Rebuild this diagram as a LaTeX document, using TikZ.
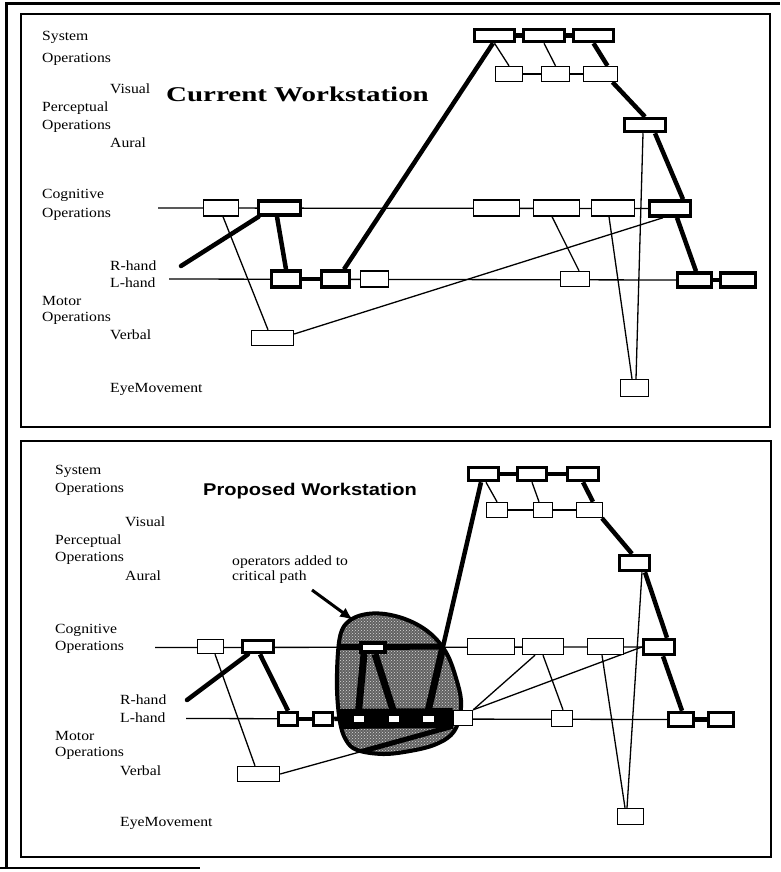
\documentclass[tikz,border=0pt]{standalone}
\usepackage{fontspec}
\setmainfont{Liberation Serif}
\newfontfamily\labfont{Liberation Serif}[FakeStretch=1.12]
\newfontfamily\propfont{Liberation Sans}
\usetikzlibrary{arrows.meta,patterns}
\pgfdeclarelayer{bg}
\pgfdeclarelayer{mid}
\pgfsetlayers{bg,mid,main}
\newcommand\bx[6]{\node[#1, minimum width=#5, minimum height=#6] (#2) at (#3,#4) {};}
\tikzset{
  box/.style={draw, fill=white, inner sep=0pt, line width=1.4pt},
  tbox/.style={box, line width=3.5pt},
  bbox/.style={draw, fill=white, inner sep=0pt, line width=4pt},
  thin/.style={line width=1.3pt},
  thk/.style={line width=4.5pt},
  lab/.style={anchor=base west, inner sep=0pt, font=\labfont\fontsize{14}{15}\selectfont},
  frame/.style={line width=1.5pt},
}
\begin{document}
\begin{tikzpicture}[x=1pt,y=-1pt]
\useasboundingbox (0,0) rectangle (780,872);
% outer frame
\draw[line width=3pt] (6,868) -- (6,4) -- (780,4);
\draw[line width=1.5pt] (0,868) -- (200,868);
% panels
\draw[frame] (21,14) rectangle (770,427);
\draw[frame] (21,441) rectangle (771,857);

% ---------------- upper panel labels
\node[lab] (uL1) at (42,40.5) {System};
\node[lab] (uL2) at (42,63) {Operations};
\node[lab] (uL3) at (110,93.5) {Visual};
\node[lab] (uL4) at (42,111.5) {Perceptual};
\node[lab] (uL5) at (42,129.5) {Operations};
\node[lab] (uL6) at (110,147) {Aural};
\node[lab] (uL7) at (42,198.5) {Cognitive};
\node[lab] (uL8) at (42,217) {Operations};
\node[lab] (uL9) at (110,270) {R-hand};
\node[lab] (uL10) at (110,287.3) {L-hand};
\node[lab] (uL11) at (42,305) {Motor};
\node[lab] (uL12) at (42,321.7) {Operations};
\node[lab] (uL13) at (110,339.3) {Verbal};
\node[lab] (uL14) at (110,392.7) {EyeMovement};
\node[anchor=base, inner sep=0pt] (uT) at (297.5,101.7) {\scalebox{1.38}[1]{\fontsize{21}{24}\selectfont\bfseries Current Workstation}};

% ---------------- upper panel boxes
\bx{tbox}{uS1}{494.5}{35.5}{40}{12}
\bx{tbox}{uS2}{544}{35.5}{41}{12}
\bx{tbox}{uS3}{593.5}{35.5}{40}{12}
\bx{box}{uV1}{509}{74}{27}{15}
\bx{box}{uV2}{555.5}{74}{28}{15}
\bx{box}{uV3}{600.5}{74}{34}{15}
\bx{tbox}{uA}{645}{125}{41}{13}
\bx{box}{uCa}{221}{208}{35}{16}
\bx{tbox}{uCb}{279.5}{208}{42}{14}
\bx{box}{uC1}{496.5}{208}{46}{16}
\bx{box}{uC2}{556.5}{208}{46}{16}
\bx{box}{uC3}{613}{208}{43}{16}
\bx{tbox}{uC4}{670}{208.5}{41}{15}
\bx{tbox}{uLa}{286}{279}{29}{16}
\bx{tbox}{uLb}{335.5}{279}{28}{16}
\bx{box}{uLc}{374.5}{279}{28}{16}
\bx{box}{uLd}{575}{279}{29}{15}
\bx{tbox}{uLe}{694.5}{280}{34}{14}
\bx{tbox}{uLf}{738}{280}{35}{14}
\bx{box}{uVb}{272.5}{338}{42}{15}
\bx{box}{uE}{634.5}{388}{28}{17}
\coordinate (ucs) at (158,208);
\coordinate (ums) at (169,279);
\coordinate (urh) at (181,266);

\begin{pgfonlayer}{bg}
\draw[thin] (ucs) -- (uC4.west);
\draw[thin] (ums) -- (uLe.west);
\draw[thk] (uLa.east) -- (uLb.west);
\draw[thk] (uLe.east) -- (uLf.west);
\draw[thk] (uS1) -- (uS3);
\draw[thin] (uV1) -- (uV3);
\draw[thin] (uS1.south) -- (uV1.north);
\draw[thin] (uS2.south) -- (uV2.north);
\draw[thk] (uS3.south) -- ([xshift=7pt]uV3.north);
\draw[thk] ([xshift=12pt]uV3.south) -- (uA.north);
\draw[thk] ([xshift=10pt]uA.south) -- ([xshift=13pt]uC4.north);
\draw[thin] ([xshift=-2pt]uA.south) -- ([xshift=1.5pt]uE.north);
\draw[thin] ([xshift=-4pt]uC3.south) -- ([xshift=-2.5pt]uE.north);
\draw[thin] ([xshift=-4.5pt]uC2.south) -- ([xshift=4pt]uLd.north);
\draw[thk] ([xshift=7pt]uC4.south) -- ([xshift=1.5pt]uLe.north);
\draw[thin] ([yshift=4pt]uVb.east) -- ([xshift=-7pt]uC4.south);
\draw[thin] ([xshift=2pt]uCa.south) -- ([xshift=-4.5pt]uVb.north);
\draw[thk] ([xshift=-2.5pt]uCb.south) -- (uLa.north);
\draw[thk,line cap=round] ([xshift=-21pt]uCb.south) -- (urh);
\draw[thk] ([xshift=8.5pt]uLb.north) -- ([xshift=-1.5pt]uS1.south);
\end{pgfonlayer}

% ---------------- lower panel labels
\node[lab] (lL1) at (55,474.3) {System};
\node[lab] (lL2) at (55,492.3) {Operations};
\node[lab] (lL3) at (125,526.7) {Visual};
\node[lab] (lL4) at (55,544.3) {Perceptual};
\node[lab] (lL5) at (55,561.7) {Operations};
\node[lab] (lL6) at (125,580) {Aural};
\node[lab] (lL7) at (55,633.3) {Cognitive};
\node[lab] (lL8) at (55,650.7) {Operations};
\node[lab] (lL9) at (120,704) {R-hand};
\node[lab] (lL10) at (120,722.7) {L-hand};
\node[lab] (lL11) at (55,740) {Motor};
\node[lab] (lL12) at (55,756) {Operations};
\node[lab] (lL13) at (120,775) {Verbal};
\node[lab] (lL14) at (120,826.7) {EyeMovement};
\node[anchor=base, inner sep=0pt] (lT) at (310,495) {\scalebox{1.18}[1]{\propfont\fontsize{17}{20}\selectfont\bfseries Proposed Workstation}};
\node[lab] (ann1) at (232,565) {operators added to};
\node[lab] (ann2) at (232,580.7) {critical path};

% ---------------- lower panel boxes
\bx{tbox}{lS1}{483.5}{474}{30}{13}
\bx{tbox}{lS2}{532}{474}{29}{13}
\bx{tbox}{lS3}{583}{474}{31}{13}
\bx{box}{lV1}{497}{510}{21}{15}
\bx{box}{lV2}{543}{510}{19}{15}
\bx{box}{lV3}{589.5}{510}{26}{15}
\bx{tbox}{lA}{634.5}{563}{30}{15}
\bx{box}{lCa}{210.5}{646.5}{26}{14}
\bx{tbox}{lCb}{258}{646.5}{31}{12}
\bx{bbox}{lCx}{373}{647.5}{24}{9}
\bx{box}{lC1}{491}{646.5}{47}{16}
\bx{box}{lC2}{543}{646.5}{41}{16}
\bx{box}{lC3}{605.5}{646.5}{36}{16}
\bx{tbox}{lC4}{659}{647}{31}{15}
\bx{tbox}{lLa}{288}{719}{19}{13}
\bx{tbox}{lLb}{323}{719}{19}{13}
\bx{bbox}{lL1}{358.5}{718.5}{14}{10}
\bx{bbox}{lL2}{393.5}{718.5}{14}{10}
\bx{bbox}{lL3}{428}{718.5}{15}{10}
\bx{box}{lLg}{463}{718}{19}{15}
\bx{box}{lLd}{562}{718.5}{21}{16}
\bx{tbox}{lLe}{681}{719.5}{25}{14}
\bx{tbox}{lLf}{721}{719.5}{25}{14}
\bx{box}{lVb}{258.5}{774}{42}{15}
\bx{box}{lE}{630.5}{816.5}{26}{16}
\coordinate (lcs) at (155,647.5);
\coordinate (lms) at (186,718.5);
\coordinate (lrh) at (187,700);
\coordinate (arS) at (312,590);
\coordinate (arE) at (353,620);

\begin{pgfonlayer}{bg}
\draw[thin] (lcs) -- (lC4.west);
\draw[thin] (lms) -- (lLe.west);
\draw[thk] (lLa.east) -- (lLb.west);
\draw[thk] (lLb) -- (lL3);
\draw[thk] (lLe.east) -- (lLf.west);
\draw[thk] (lS1) -- (lS3);
\draw[thin] (lV1) -- (lV3);
\draw[thin] ([xshift=2.5pt]lS1.south) -- (lV1.north);
\draw[thin] (lS2.south) -- ([xshift=-4pt]lV2.north);
\draw[thk] (lS3.south) -- ([xshift=3.5pt]lV3.north);
\draw[thk] ([xshift=12.5pt]lV3.south) -- ([xshift=-2.5pt]lA.north);
\draw[thk] ([xshift=10.5pt]lA.south) -- ([xshift=8pt]lC4.north);
\draw[thin] ([xshift=7.5pt]lA.south) -- ([xshift=-3.5pt]lE.north);
\draw[thin] ([xshift=-3.5pt]lC3.south) -- ([xshift=-5.5pt]lE.north);
\draw[thin] (lC2.south) -- ([xshift=1pt]lLd.north);
\draw[thk] ([xshift=4pt]lC4.south) -- ([xshift=1pt]lLe.north);
\draw[thin] (lLg.north east) -- ([xshift=-8pt]lC2.south);
\draw[thin] (lLg.north east) -- (lC4.west);
\draw[thk] ([xshift=-2.5pt]lS1.south) -- (lL3.north);
\draw[thin] ([xshift=4.5pt]lCa.south) -- ([xshift=-3.5pt]lVb.north);
\draw[thk,line cap=round] ([xshift=-10pt]lCb.south) -- (lrh);
\draw[thk] ([xshift=2pt]lCb.south) -- (lLa.north);
\draw[thin] (lVb.east) -- (lLg.south west);
\end{pgfonlayer}

% ---------------- blob (operators added to critical path)
\def\blobpath{plot[smooth cycle, tension=0.6] coordinates {(338,652) (342,630) (352,619) (367,614) (385,614) (405,619) (423,628) (437,640) (448,656) (456,678) (461,700) (459,720) (451,735) (434,745) (410,751) (383,754) (357,750) (346,740) (340,722) (337,690)}}
\begin{pgfonlayer}{mid}
\fill[black!62] \blobpath;
\fill[pattern=crosshatch dots, pattern color=white!85!black] \blobpath;
\begin{scope}
\clip \blobpath;
\draw[line width=6pt] (lcs) -- (lC1);
\draw[line width=7pt] ([xshift=-2.5pt]lS1.south) -- (lL3.north);
\draw[line width=5pt] (lVb.east) -- (lLg.south west);
\draw[line width=7pt] ([xshift=-9pt]lCx.south) -- (lL1.north);
\draw[line width=7pt] ([xshift=2pt]lCx.south) -- (lL2.north);
\draw[line width=20pt] (lLb) -- (lLg);
\end{scope}
\draw[line width=4pt] \blobpath;
\end{pgfonlayer}

\draw[line width=3pt, -{Latex[length=13pt,width=11pt]}] (arS) -- (arE);
\end{tikzpicture}
\end{document}
